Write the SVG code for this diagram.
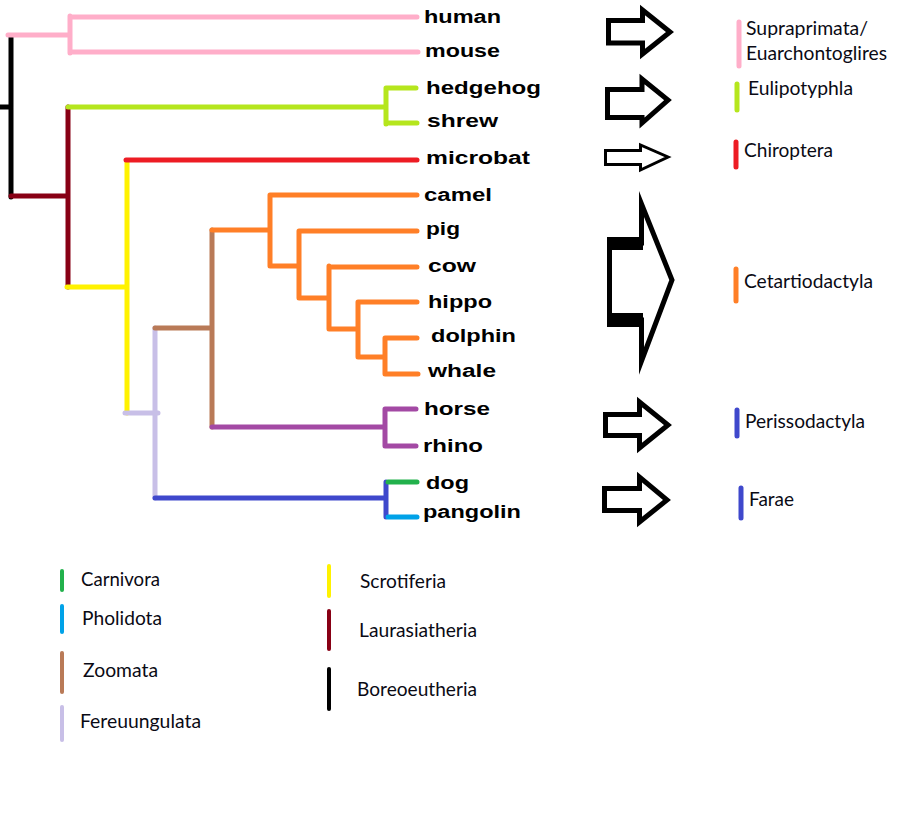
<svg xmlns="http://www.w3.org/2000/svg" width="902" height="821" viewBox="0 0 902 821">
<style>
.br{fill:none;stroke-width:5;stroke-linecap:round;stroke-linejoin:round}
.sp{font-family:"Liberation Sans",Arial,sans-serif;font-weight:bold;font-size:18px;fill:#000}
.cl{font-family:Lato,"Liberation Sans",sans-serif;font-size:19px;fill:#0a0a14}
.lg{font-family:Lato,"Liberation Sans",sans-serif;font-size:19px;fill:#0a0a14}
.ar{fill:#fff;stroke:#000;stroke-width:5;stroke-linejoin:miter;stroke-miterlimit:10}
.bar{stroke-width:5;stroke-linecap:round}
.lbar{stroke-width:4;stroke-linecap:round}
</style>
<rect width="902" height="821" fill="#fff"/>
<g id="connectors">
  <path class="br" stroke="#000" d="M0 107H11M11 37V197"/>
  <path class="br" stroke="#ffaec9" d="M8 35H70M70 16V53M70 17H417M70 52H418"/>
  <path class="br" stroke="#880015" d="M11 196H68M68 107V287"/>
  <path class="br" stroke="#b5e61d" d="M68 107H386M386 88V124M386 88H416M386 123H417"/>
  <path class="br" stroke="#fff200" d="M67 287H127M127 161V413"/>
  <path class="br" stroke="#ed1c24" d="M126 160H417"/>
  <path class="br" stroke="#c8bfe7" d="M125 413H158M155 328V498"/>
  <path class="br" stroke="#b97a57" d="M155 328H212M212 230V427"/>
  <path class="br" stroke="#ff7f27" d="M212 230H270M270 195V266M270 195H417M270 266H299M299 231V298M299 231H417M299 298H329M329 266V329M329 267H417M329 329H358M358 302V357M358 302H417M358 357H385M385 338V374M385 338H417M385 374H418"/>
  <path class="br" stroke="#a349a4" d="M212 427H385M385 409V446M385 409H416M385 446H416"/>
  <path class="br" stroke="#3f48cc" d="M155 498H386M386 482V517"/>
  <path class="br" stroke="#22b14c" d="M388 482H417"/>
  <path class="br" stroke="#00a2e8" d="M388 517H417"/>
</g>
<g id="leaf-human"><text class="sp" x="424" y="23" textLength="77" lengthAdjust="spacingAndGlyphs">human</text></g>
<g id="leaf-mouse"><text class="sp" x="425" y="57" textLength="75" lengthAdjust="spacingAndGlyphs">mouse</text></g>
<g id="leaf-hedgehog"><text class="sp" x="426" y="94" textLength="115" lengthAdjust="spacingAndGlyphs">hedgehog</text></g>
<g id="leaf-shrew"><text class="sp" x="427" y="127" textLength="71" lengthAdjust="spacingAndGlyphs">shrew</text></g>
<g id="leaf-microbat"><text class="sp" x="426" y="164" textLength="104" lengthAdjust="spacingAndGlyphs">microbat</text></g>
<g id="leaf-camel"><text class="sp" x="424" y="201" textLength="68" lengthAdjust="spacingAndGlyphs">camel</text></g>
<g id="leaf-pig"><text class="sp" x="426" y="235" textLength="34" lengthAdjust="spacingAndGlyphs">pig</text></g>
<g id="leaf-cow"><text class="sp" x="428" y="272" textLength="48" lengthAdjust="spacingAndGlyphs">cow</text></g>
<g id="leaf-hippo"><text class="sp" x="428" y="308" textLength="64" lengthAdjust="spacingAndGlyphs">hippo</text></g>
<g id="leaf-dolphin"><text class="sp" x="431" y="342" textLength="85" lengthAdjust="spacingAndGlyphs">dolphin</text></g>
<g id="leaf-whale"><text class="sp" x="428" y="377" textLength="68" lengthAdjust="spacingAndGlyphs">whale</text></g>
<g id="leaf-horse"><text class="sp" x="424" y="415" textLength="66" lengthAdjust="spacingAndGlyphs">horse</text></g>
<g id="leaf-rhino"><text class="sp" x="423" y="452" textLength="60" lengthAdjust="spacingAndGlyphs">rhino</text></g>
<g id="leaf-dog"><text class="sp" x="426" y="489" textLength="43" lengthAdjust="spacingAndGlyphs">dog</text></g>
<g id="leaf-pangolin"><text class="sp" x="423" y="518" textLength="98" lengthAdjust="spacingAndGlyphs">pangolin</text></g>

<g id="arrow-1"><polygon class="ar" points="608.5,20.5 642.5,20.5 642.5,10 670,32 642.5,54 642.5,43 608.5,43"/></g>
<g id="arrow-2"><polygon class="ar" points="607.5,89.5 642,89.5 642,79 668,100 642,123 642,117.5 607.5,117.5"/></g>
<g id="arrow-3"><polygon class="ar" style="stroke-width:3" points="605.5,150.5 640.5,150.5 640.5,145 668,157 640.5,170 640.5,164.5 605.5,164.5"/></g>
<g id="arrow-4">
  <polygon class="ar" points="609.5,243 641.5,243 641.5,204 672,280 641.5,361 641.5,320 609.5,320"/>
  <rect x="607" y="237" width="36" height="13" fill="#000"/>
  <rect x="607" y="313" width="36" height="14" fill="#000"/>
</g>
<g id="arrow-5"><polygon class="ar" points="605.5,414.5 639.5,414.5 639.5,402 668,425 639.5,448 639.5,435.5 605.5,435.5"/></g>
<g id="arrow-6"><polygon class="ar" points="604.5,488.5 639.5,488.5 639.5,477 667,500 639.5,522 639.5,510.5 604.5,510.5"/></g>

<g id="clade-supraprimata">
  <line class="bar" stroke="#ffaec9" x1="739" y1="22" x2="739" y2="66"/>
  <text class="cl" x="746" y="35" textLength="122" lengthAdjust="spacingAndGlyphs">Supraprimata/</text>
  <text class="cl" x="746" y="60" textLength="141" lengthAdjust="spacingAndGlyphs">Euarchontoglires</text>
</g>
<g id="clade-eulipotyphla">
  <line class="bar" stroke="#b5e61d" x1="737" y1="84" x2="737" y2="110"/>
  <text class="cl" x="748" y="95" textLength="105" lengthAdjust="spacingAndGlyphs">Eulipotyphla</text>
</g>
<g id="clade-chiroptera">
  <line class="bar" stroke="#ed1c24" x1="736" y1="142" x2="736" y2="167"/>
  <text class="cl" x="744" y="157" textLength="89" lengthAdjust="spacingAndGlyphs">Chiroptera</text>
</g>
<g id="clade-cetartiodactyla">
  <line class="bar" stroke="#ff7f27" x1="736" y1="269" x2="736" y2="301"/>
  <text class="cl" x="744" y="288" textLength="129" lengthAdjust="spacingAndGlyphs">Cetartiodactyla</text>
</g>
<g id="clade-perissodactyla">
  <line class="bar" stroke="#3f48cc" x1="737" y1="410" x2="737" y2="436"/>
  <text class="cl" x="745" y="428" textLength="120" lengthAdjust="spacingAndGlyphs">Perissodactyla</text>
</g>
<g id="clade-farae">
  <line class="bar" stroke="#3f48cc" x1="741" y1="488" x2="741" y2="518"/>
  <text class="cl" x="749" y="506" textLength="45" lengthAdjust="spacingAndGlyphs">Farae</text>
</g>

<g id="legend-carnivora">
  <line class="lbar" stroke="#22b14c" x1="62" y1="571" x2="62" y2="590"/>
  <text class="lg" x="81" y="586" textLength="79" lengthAdjust="spacingAndGlyphs">Carnivora</text>
</g>
<g id="legend-pholidota">
  <line class="lbar" stroke="#00a2e8" x1="62" y1="606" x2="62" y2="632"/>
  <text class="lg" x="82" y="625" textLength="80" lengthAdjust="spacingAndGlyphs">Pholidota</text>
</g>
<g id="legend-zoomata">
  <line class="lbar" stroke="#b97a57" x1="62" y1="653" x2="62" y2="692"/>
  <text class="lg" x="83" y="677" textLength="75" lengthAdjust="spacingAndGlyphs">Zoomata</text>
</g>
<g id="legend-fereuungulata">
  <line class="lbar" stroke="#c8bfe7" x1="62" y1="707" x2="62" y2="740"/>
  <text class="lg" x="80" y="728" textLength="121" lengthAdjust="spacingAndGlyphs">Fereuungulata</text>
</g>
<g id="legend-scrotiferia">
  <line class="lbar" stroke="#fff200" x1="329" y1="566" x2="329" y2="596"/>
  <text class="lg" x="360" y="588" textLength="86" lengthAdjust="spacingAndGlyphs">Scrotiferia</text>
</g>
<g id="legend-laurasiatheria">
  <line class="lbar" stroke="#880015" x1="329" y1="611" x2="329" y2="649"/>
  <text class="lg" x="359" y="637" textLength="118" lengthAdjust="spacingAndGlyphs">Laurasiatheria</text>
</g>
<g id="legend-boreoeutheria">
  <line class="lbar" stroke="#000" x1="329" y1="669" x2="329" y2="709"/>
  <text class="lg" x="357" y="696" textLength="120" lengthAdjust="spacingAndGlyphs">Boreoeutheria</text>
</g>
</svg>
